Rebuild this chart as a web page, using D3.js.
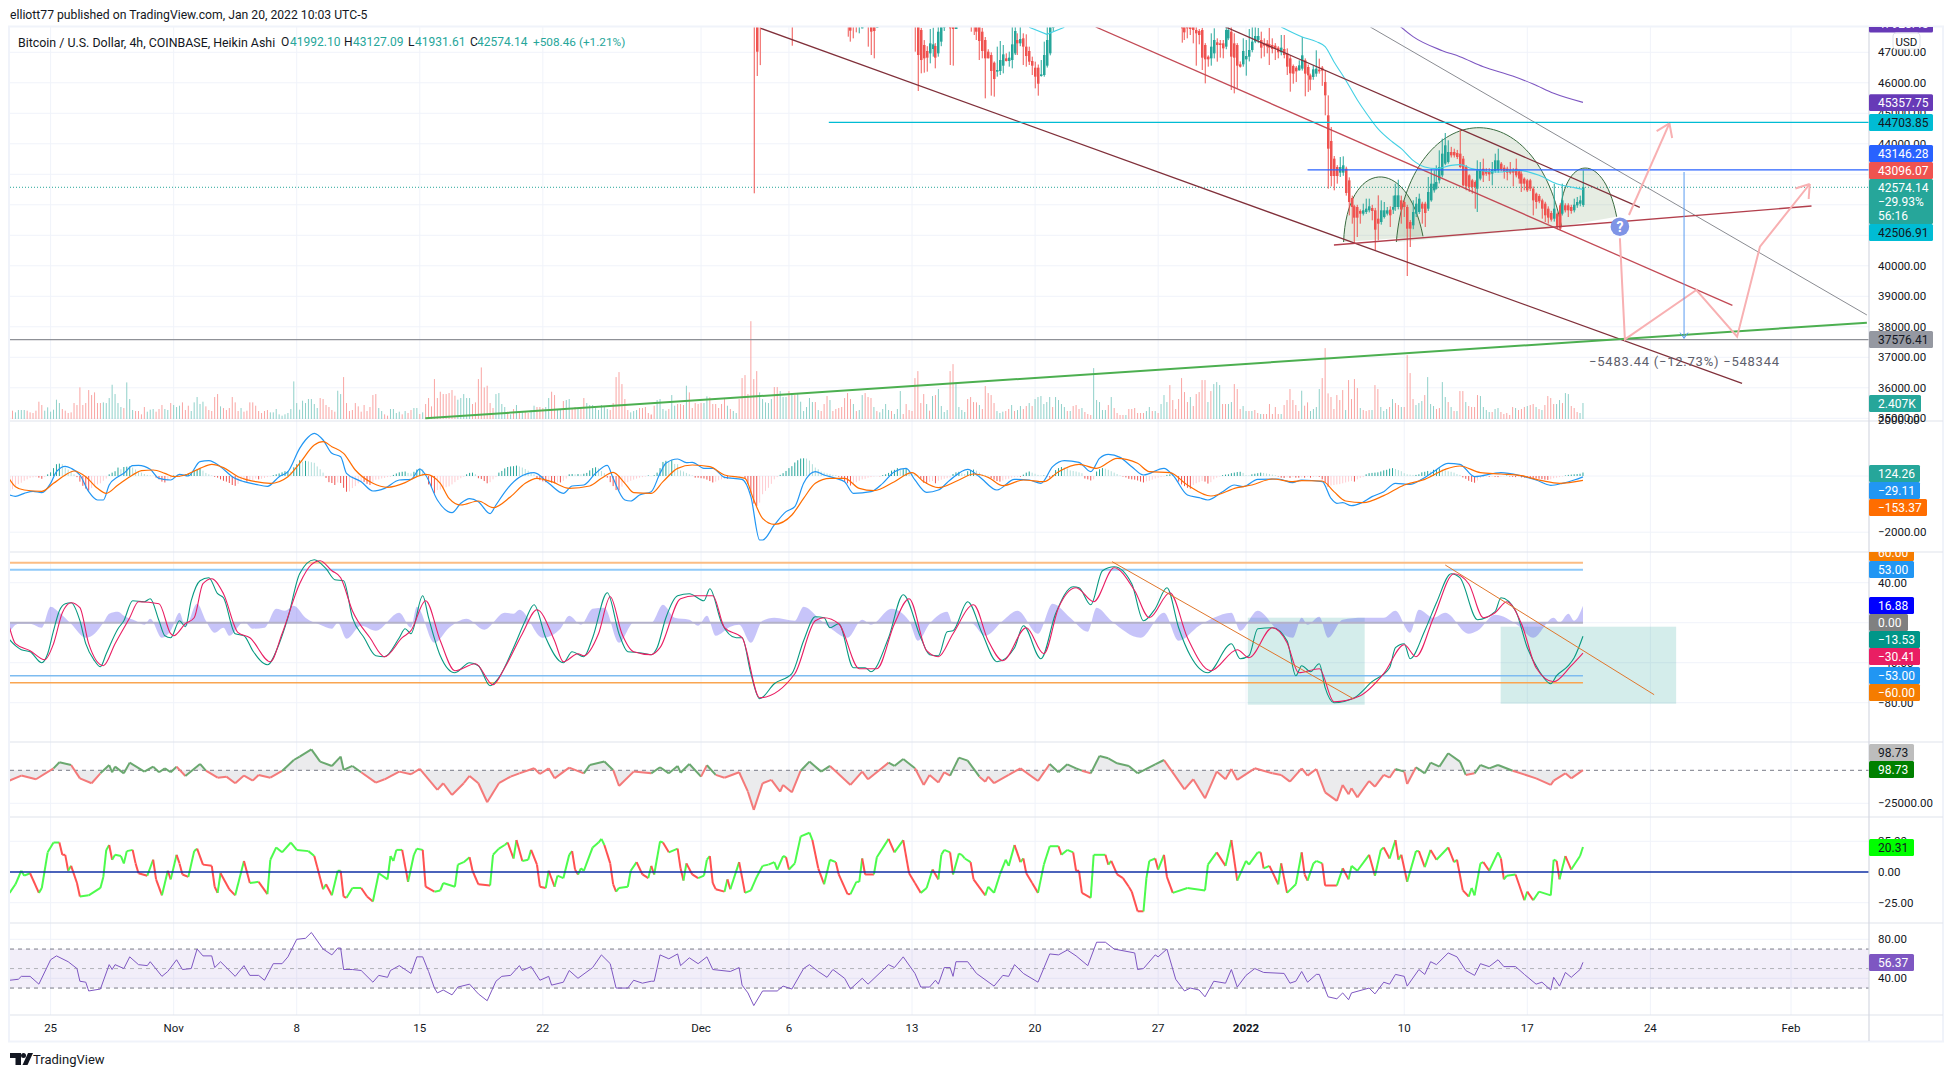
<!DOCTYPE html>
<html lang="en">
<head>
<meta charset="utf-8"/>
<style>
body { margin: 0; background: #fff; }
text { font-family: Roboto, sans-serif; }
.axis text { font-size: 11.5px; fill: #131722; }
.axis path, .axis line { display: none; }
</style>
</head>
<body>
<svg id="chart" width="1953" height="1077"></svg>
<script src="https://cdn.jsdelivr.net/npm/d3@7"></script>
<script>
var firstDay = Date.UTC(2021, 9, 25);

var tickDays = ["2021-10-25","2021-11-01","2021-11-08","2021-11-15","2021-11-22","2021-12-01","2021-12-06","2021-12-13","2021-12-20","2021-12-27","2022-01-01","2022-01-10","2022-01-17","2022-01-24","2022-02-01"];
var tickNames = ["25","Nov","8","15","22","Dec","6","13","20","27","2022","10","17","24","Feb"];

// bar, open, close, high, low
var candlesNov = [[240,49000,48800,49500,42377],[241,48800,47020,49000,46223],[242,48500,47900,48600,46580],[253,48400,48300,48500,47216],
[272,48400,48300,48500,47512],[273,48200,47709,48300,47349],[274,48300,48200,48400,47458],[275,48300,48200,48400,47655],[276,48200,48300,48400,47622],[277,47786,48000,48300,47786],[279,48300,48200,48400,47185],[280,48100,47676,48300,46911],[281,48000,47698,48200,46802],[282,47808,47900,48200,47808]];
var candlesDec = [[295,48300,48200,48400,47021],[296,48200,46911,48300,45731],[297,47731,46747,47800,46310],[298,47239,46802,47400,46332],[299,47043,46824,47200,46365],[300,46966,47294,47764,46638],[301,47108,47261,47808,46857],[302,47206,46824,47300,46474],[303,46966,47676,48000,46857],[304,47349,47895,48200,47200],[305,47808,47900,48200,47700],[307,47900,47786,48200,46583],[308,47900,47764,48200,46562],[309,47764,47900,48200,47764],
[314,48300,48200,48400,47676],[315,48300,48200,48400,47567],[316,47900,47676,48000,47403],[317,47900,47370,48000,46747],[318,47676,47043,47800,46802],[319,47403,46802,47500,45490],[320,47021,46802,47100,46802],[321,46911,46387,47000,45578],[322,46660,46124,46700,45545],[323,46365,46419,47185,46201],[324,46387,46747,47370,46255],[325,46561,46933,47239,46310],[326,46802,46714,46966,46700],[327,46714,46824,47021,46529],[328,46747,47261,47900,46474],[329,46966,47698,47900,46911],[330,47403,47294,47622,46911],[331,47294,47436,47900,47200],[332,47458,47185,47622,46583],[333,47185,46878,47589,46529],[334,47043,46693,47185,46583],[335,46714,46561,46857,46255],[336,46496,46201,46693,45818],[337,46496,45971,46600,45578],[338,46223,46277,46747,46201],[339,46255,46911,47349,46200],[340,46562,47403,47900,46500],[341,46966,47900,48200,46900],[342,47800,47900,48000,47700],
[386,48200,47786,48300,47316],[387,48200,47654,48300,47403],[388,48000,47786,48100,47458],[389,48000,47764,48100,47567],[390,48000,47731,48100,47294],[391,47731,47622,47900,46562],[392,47698,47567,47764,47261],[393,47731,46824,47800,46419],[394,47239,46769,47300,45982],[395,46857,46769,46900,46529],[396,46802,47185,47622,46562],[397,46966,47403,47786,46800],[398,47327,47239,47458,46693],[399,47294,47239,47403,46824],[400,47294,47130,47403,46802],[401,47185,47731,48000,47100],[402,47458,47731,48000,47400],[403,47676,46857,47900,45764],[404,47294,46824,47622,45654],[405,47239,46561,47300,45818],[406,46605,46528,46700,46500],[407,46605,47043,47458,46528]];
var candlesJan = [[408,46769,46879,47403,46234],[409,46857,47075,47764,46700],[410,47075,47349,47900,47000],[411,47349,47534,47900,47300],[412,47403,47534,47800,47300],[413,47403,47152,47676,46802],[414,47294,47217,47458,46857],[415,47294,47185,47400,46966],[416,47272,47152,47800,46583],[417,47239,47108,47458,46966],[418,47217,47108,47300,46747],[419,47152,47000,47200,46802],[420,47000,47152,47567,46900],[421,47108,46911,47567,46802],[422,46966,46529,47130,46255],[423,46802,46310,46900,45709],
[424,46551,46300,46600,45972],[425,46497,46376,46550,46027],[426,46409,46573,46737,46400],[427,46464,46901,47502,46400],[428,46737,46300,46800,45557],[429,46518,46245,46600,45699],[430,46245,46103,46300,45753],[431,46191,46442,46573,46100],[432,46300,46464,47065,46200],[433,46431,46376,46792,46300],[434,46497,46400,46550,45900],[435,46027,45589,46409,44934],[436,44934,43840,45589,42529],[437,44092,42944,44551,42605],[438,43513,42944,43600,42474],[439,43239,42944,43300,42693],[440,43054,43239,43567,42912],[441,43054,43294,43589,42950],[442,43185,42387,43250,42300],[443,42802,42092,42900,41654],[444,42223,41928,42300,41381],[445,41950,41578,42000,40725],[446,41928,41578,42000,40944],[447,41797,41709,41850,41381],[448,41709,41819,42037,41650],[449,41764,41874,42201,41700],[450,41819,41950,42201,41750],[451,41895,41797,42000,41491],[452,41819,41185,41900,40507],[453,41545,41381,42311,40835],[454,41436,41819,42146,41350],[455,41600,41819,42092,41550],[456,41709,41819,41928,41650],[457,41840,41655,41950,41272],[458,41840,41928,42300,41700],[459,41928,42310,42693,41800],[460,41928,42310,42824,41850],[461,42146,41840,42300,41381],[462,42092,41928,42146,41600],[463,41928,41217,42000,39665],[464,41436,41217,41500,40616],[465,41327,41764,42146,41200],[466,41709,42037,42256,41600],[467,41764,42201,42365,41700],[468,42037,41873,42100,41381],[469,42037,41731,42100,41272],[470,41873,42420,42912,41800],[471,42146,42693,43185,42100],[472,42474,42693,43130,42400],[473,42529,42747,43294,42500],[474,42802,43239,43786,42700],[475,42966,43677,44169,42900],[476,43349,43950,44354,43300],[477,43403,43731,44114,43350],[478,43731,43622,43900,43550],[479,43731,43622,43840,43550],[480,43698,43567,43800,43500],[481,43677,43239,44442,43200],[482,43513,42638,43600,42605],[483,43239,42605,43300,42474],[484,42966,42584,43000,42420],[485,42802,42584,42850,42365],[486,42747,42584,42800,41873],[487,42529,43130,43458,41764],[488,42857,43152,43403,42800],[489,43185,42966,43513,42747],[490,43097,43021,43200,42950],[491,43108,42999,43200,42780],[492,43021,43152,43403,42638],[493,43108,43458,43677,43050],[494,43130,43458,43840,43050],[495,43349,43152,43400,43100],[496,43217,43076,43300,42857],[497,43185,43054,43250,42802],[498,43152,43054,43403,43000],[499,43130,43054,43200,42605],[500,43185,42966,43513,42900],[501,43097,42857,43150,42693],[502,43021,42693,43100,42420],[503,42857,42693,42900,42474],[504,42802,42474,42850,42420],[505,42802,42529,42850,42450],[506,42529,42146,42600,41654],[507,42365,42092,42400,41873],[508,42288,42114,42350,42050],[509,42146,41873,42200,41545],[510,42037,41655,42100,41436],[511,41873,41578,41950,41381],[512,41731,41512,41800,41450],[513,41545,41873,42693,41450],[514,41709,41272,41750,41196],[515,41983,41217,42050,41163],[516,41709,42146,42693,41650],[517,41983,41819,42050,41750],[518,41983,41819,42050,41600],[519,41928,41797,42000,41709],[520,41819,42004,42201,41750],[521,41983,42092,42256,41900],[522,42037,42146,42300,41950],[523,41992.10,42574.14,43127.09,41931.61]];

var maCyan = [[334,47820],[340,47590],[346,47820],[420,47830],[427,47512],[432,47350],[435,47185],[438,46693],[442,46092],[446,45436],[449,45010],[453,44496],[458,44059],[461,43840],[465,43458],[469,43240],[473,43185],[478,43294],[481,43316],[485,43185],[494,43075],[501,43130],[508,42966],[514,42693],[520,42562],[523,42507]];
var maPurple = [[459,47990],[461,47819],[465,47513],[475,47054],[481,46857],[489,46529],[499,46223],[506,45961],[513,45655],[523,45358]];

// signed volume in thousands, negative bars are the red ones; each run starts at the bar named next to it
var volumeStartA = -13;
var volumeA = [-1.25,1,1.35,1.35,1.35,-1.25,-1,-.9,-1.25,-2.6,-2.1,1.25,1.75,1.1,1.4,2.9,2.4,-1.5,-1.25,-.9,-1,-2.4,-2.1,-4.75,-2.1,-2.4,-4.35,-3.6,-4,-2.4,-2.4,2.5,2.4,3.15,5.15,3.75,2.4,1.8,-1.65,5.5,3,1.35,-1.2,-1.2,-.7,-1.8,1.1,1.4,1.5,-1.1,-1.5,-2.1,1.5,1.35,-2.4,2.1,1.8,2,-2.5,-1.35,-2,1.2,2.5,3.3,2.25,2.6,-1.9,-1.35,-1.2,-3.3,-3.75,1.9,-1.65,-1.35,-1.65,-3.3,-2.5,-1.2,1.65,-1.1,-1.25,-2.5,-2.5,-2,-1.2,-.9,-1.2,-1.35,1,1,1.5,.7,.5,.7,.9,1.5,5.65,2.4,1.4,2.75,2.4,3,3,2.25,1.65,-3.15,-3,-2.1,-1.8,-1.35,-1.1,4.25,3.75,-6.3,-2.4,-1.2,-1.35,-2.4,-1.9,-1.1,-2.1,-1.2,-1.8,-3.6,-3.75,1.65,1.2,-.7,-.5,1.5,1.5,.9,1.1,-.7,1.2,-.9,-1.35,1.65,1.65,-.75,1,-2.25,-3.15,-1.9,-6,-3.15,-4.1,-3.75,-3.75,-3.9,-4.35,-3.5,2.9,3.15,3.75,3.15,3.15,-2.25,-2.5,-6,-7.75,-4.75,-5,-2.4,-1.65,3.75,3.9,2.25,1.8,-1.1,.7,-1.5,2.1,-1.2,1.2,-1.1,-.9,1.35,2,-1.8,-1.8,-1.65,1.8,3.15,-4.1,-3.6,1.5,1.35,-2.7,2.85,3,-1.5,-1.8,1.5,-1.65,-3.15,2.4,2.1,2.1,1.65,1.35,2.1,1.95,1.5,-1.35,-2.4,-6.3,-7.05,-5.25,-3,-1.35,1,1.2,1.35,-1.65,-1.65,-1.8,-.9,-.6];
var volumeStartB = 205;
var volumeB = [-.7,-2,2.85,3,1.5,1.25,-1.5,3.6,2,-2.25,-2.25,-2.1,5,-4,-1.65,-2.4,-2.25,-2.4,2.4,3.4,-3.25,-2.25,-2.25,-1.65,-2.25,-3,2,-1.5,1.2,.9,-3,-6.15,-6.6,-3.75,-14.7,-6,-7.2,4,3,2.5,2.4,3,-4.8,-4.8,4.2,3.3,3.3,-4.2,3.9,-3.6,3.9,2.6,1.2,1.8,3.15,2.55,-2.55,1.35,-1.2,-2.25,-3.45,2.85,-1.2,-1.5,-1.65,-1.8,-3.15,-3.9,-3,2.25,-1.2,1.35,3.6,-3.9,-3.3,-3.15,1.8,-1.2,1,1.5,2.25,1.35,-1.2,.75,1.5,4.2,-.75,-2.25,-1.35,-1.2,-6.15,-7.2,-2.4,-3.75,2.25,-1.25,3.45,-3.6,4.5,1.95,1.05,1.35,-7.2,-8.25,5.5,1.8,1.35,1.05,-3,-3.3,-2.55,-2.5,2.1,-1.5,-4.95,-3.9,-3.6,-2.4,1.2,.9,1.1,-1.2,-1.5,2.1,-1.2,1.35,1.95,-1.5,-1.95,2.4,-1.95,3,3.3,3.45,2.25,2.55,3.3,-1.8,3.3,2.85,2.25,1.8,-1.2,1.2,-1.95,-2.1,-1.5,1.65,-1.05,-.75,-.6,7.65,2.85,2.55,1.35,1.35,-2.1,3.3,-1.65,-.9,-.6,-.6,.6,-1.5,-1.5,-1.65,-.9,-.9,-.9,1.2,1.8,-1.2,1.2,-.9,2.25,3.6,2.55,-5.1,-2.85,-1.5,-3,-6.15,-4.05,-2.55,3.3,-1.95,-3.75,-4.05,-5.85,-5.85,2.55,-4.2,5.25,5.55,5.1,-2.25,-2.25,2.25,2.55,-5.25,-4.5,-1.5,1.95,1.2,-1.2,1.2,-1.35,-.9,.75,-.75,-.75,-2.25,-.75,-1.8,-.75,.75,-2.1,-2.85,-4.5,-2.85,-2.1,-1.2];
var volumeStartC = 427;
var volumeC = [4.25,-2,-2.5,1.2,1.5,1.8,4.5,-6.15,-10.65,-3.85,-3.3,-1.5,-3.6,-2.85,-4.35,1.35,-5.85,-3,-6,-4.65,1.65,-1.35,-1.2,-1.35,1.35,-5.1,-4.5,1.8,1.2,1.5,-1.8,3,-2.4,-2.1,1.8,-1.8,-9.6,-6.9,-3,2.1,2.4,2.7,-3.6,6.3,2.25,1.95,-1.5,-1.65,5.55,3.3,-2.55,1.8,-1.2,1.2,-4.2,-4.2,2.55,-1.95,-1.8,-1.8,-3.6,3.45,1.8,1.35,1.05,-1.05,1.5,1.65,-1.05,-.75,-.9,-.6,-1.8,1.65,-1.35,-1.5,-1.8,1.95,-2.1,-2.25,1.8,-1.5,1.35,-2.1,-3.45,-3.15,-2.25,2.25,2.85,-2.4,3.9,3.75,-1.95,-1.65,-1.05,.9,2.407];

var macdLine = [[-14,-676],[-12,-723],[-9,-617],[-6,-546],[-3,-593],[0,-261],[2,154],[5,344],[7,273],[10,36],[13,-557],[16,-854],[18,-854],[20,-320],[23,-24],[25,95],[28,368],[30,380],[34,237],[37,-83],[41,-142],[44,59],[47,0],[51,510],[54,546],[58,332],[62,-24],[66,-202],[70,-297],[74,-368],[78,-24],[81,154],[85,984],[87,1281],[90,1518],[93,1281],[96,806],[99,688],[101,95],[106,-202],[110,-534],[114,-439],[119,-142],[123,-119],[126,249],[128,36],[132,-854],[137,-1305],[140,-973],[143,-806],[146,-913],[150,-1340],[152,-1032],[156,-439],[160,-47],[165,119],[170,-261],[175,-617],[178,-356],[182,-320],[186,95],[190,380],[192,-83],[196,-854],[198,-890],[201,-676],
[205,-557],[208,95],[210,451],[214,605],[217,474],[219,486],[223,273],[226,273],[230,-47],[236,-119],[239,-735],[242,-2277],[243,-2277],[247,-1743],[251,-1269],[254,-1091],[257,-261],[261,154],[264,36],[268,-83],[271,-202],[274,-617],[280,-557],[284,-261],[288,154],[292,273],[295,-142],[299,-581],[303,-498],[307,-142],[313,237],[317,-24],[323,-498],[329,-119],[334,-142],[338,-261],[342,332],[346,546],[351,486],[355,154],[358,629],[361,771],[365,664],[369,332],[373,36],[380,273],[383,36],[388,-676],[392,-771],[395,-854],[400,-557],[404,-320],[407,-380],[412,-119],[419,-107],[424,-237],
[427,-142],[434,-202],[437,-795],[439,-973],[441,-949],[444,-1056],[447,-973],[451,-735],[455,-557],[459,-261],[464,-297],[468,-119],[472,154],[477,451],[481,415],[486,-24],[495,119],[502,0],[507,-142],[512,-332],[516,-261],[520,-142],[523,-29.11]];
var macdSignal = [[-14,-119],[-12,-380],[-9,-498],[-3,-546],[1,-261],[5,36],[8,178],[12,-24],[16,-439],[19,-617],[23,-320],[28,36],[31,190],[35,213],[39,95],[42,-24],[46,36],[51,273],[55,415],[59,297],[64,-24],[70,-202],[75,-261],[81,-24],[85,451],[90,1103],[93,1222],[96,1044],[100,806],[104,213],[110,-261],[115,-403],[121,-237],[125,-24],[128,59],[133,-261],[136,-795],[140,-1032],[146,-890],[151,-1127],[157,-735],[162,-261],[166,-83],[171,-202],[177,-439],[184,-356],[188,-83],[192,130],[196,-261],[199,-593],
[205,-617],[209,-202],[214,273],[219,391],[225,332],[230,36],[237,-83],[240,-854],[243,-1506],[247,-1720],[253,-1388],[257,-795],[261,-261],[266,-83],[271,-83],[276,-439],[281,-522],[288,-202],[294,119],[298,-202],[303,-415],[310,-142],[315,71],[320,-47],[325,-344],[332,-142],[339,-202],[344,154],[351,415],[357,273],[364,629],[371,451],[375,154],[382,119],[388,-320],[396,-712],[405,-415],[410,-320],[417,-107],[424,-202],
[427,-166],[434,-178],[438,-557],[442,-890],[448,-949],[455,-700],[462,-320],[469,-119],[476,237],[481,356],[488,119],[495,71],[502,12],[509,-166],[515,-261],[523,-153.37]];
// histogram runs: [first bar, values of consecutive bars]
var macdHist = [[-14,[-540,-470,-380,-290,-240,-170,-120,-70,-50,-40,-60,-100,-40]],[-1,[60,130,280,420,440,420,300,230,150,60]],[9,[-40,-200,-350,-450,-520,-430,-360,-300,-260,-170,-90]],[20,[60,120,170,300,240,320,330,340,300,230,160,120,70,40,20,10]],[36,[-60,-120,-200,-230,-170,-90]],[42,[20,10,-20,30,60,90,120,200,240,260,190,110,60,20]],[56,[-30,-60,-120,-170,-200,-250,-320,-350,-280,-190,-130,-200,-170,-140,-90,-120,-100,-70,-40,-20]],[76,[30,60,90,130,170,170,150,310,420,560,510,540,520,490,470,340,240,120]],[94,[-70,-220,-250,-320,-230,-250,-420,-560,-550,-430,-360,-260,-200,-210,-280,-320,-210,-130,-120,-90,-70,-40,-30]],[117,[40,90,130,150,160,110,90,150,230,260,240,60]],[129,[-300,-420,-620,-500,-480,-440,-400,-370,-300,-220,-140,-80,-30]],[142,[60,110,120,60]],[146,[-80,-110,-180,-260,-220,-120,-40]],[153,[120,180,270,320,340,350,370,340,300,250,190,130,60]],[166,[-70,-150,-190,-220,-200,-240,-260,-230,-230,-170,-90]],[177,[60,70,60,70,60,80,110,200,280,310,270,180,100]],[190,[-60,-220,-360,-500,-510,-380,-260,-220,-170,-130,-90,-60,-40,-20,20,-10,30]],[207,[120,280,500,540,520,560,430,420,200,160,110,60,20]],[220,[-60,-60,-80,-90,-130,-180,-230,-200,-150,-120,-100,-100,-60,-50,-40,-30,-20]],[237,[-80,-280,-600,-980,-1070,-950,-650,-530,-420,-280,-120,-40]],[249,[40,100,180,280,350,480,560,620,630,620,550,420,300,240,160,120,90,70,40,30]],[269,[-30,-110,-200,-260,-340,-270,-220,-170,-120,-100,-60,-40,-20,-10,-10]],[284,[30,60,110,190,220,280,230,240,270,180,110,60,20]],[297,[-100,-240,-280,-210,-180,-260,-170,-130,-100,-80,-60]],[308,[70,130,150,100,70,170,210,230,190,120,60,40,10]],[321,[-80,-130,-180,-200,-160,-120,-100,-60,-40,-30,-30]],[332,[50,120,160,120,80,40,20,20,-40,-60]],[342,[30,210,280,320,300,270,200,180,160,130,100]],[353,[-90,-120,-160,-120]],[357,[160,240,280,260,220,170,120,70,20]],[366,[-20,-50,-100,-120,-130,-160,-200,-230,-190,-170,-130,-90,-60,-40,-20]],[381,[40,60,40,-20]],[385,[-200,-300,-360,-420,-450,-320,-260,-220,-180,-200,-270,-220,-120,-60,-20]],[400,[30,50,60,100,120,140,150,110,30,20,60,80,100,120,110,90,70,50,30]],[419,[-20,-60,-70,-50,-70,-40,-60,-60,-50,-60,-30,-60,-30,-20,-30]],[434,[-120,-240,-380,-340,-320,-300,-290,-260,-230,-200,-180,-200,-120,-70,-40]],[449,[60,100,110,120,130,160,200,220,260,280,250,210,170,100,60,50,40,40,60]],[468,[130,150,180,160,220,240,270,230,200,170,150,120,70,40]],[482,[-50,-100,-170,-210,-240,-160,-70,-30,-20,-30,-20,-30,-40,-20,-10]],[497,[20,-20,-30,-40,-30,-50,-60,-70,-80,-80,-90,-100,-110,-130,-140,-120,-80,-60,-40,-20]],[517,[20,40,50,60,70,80,124.26]]];

var stochK = [[-14,-17],[-12,-23],[-10,-27],[-7,-29],[-3,-40],[-1,-31],[1,-8],[3,12],[5,19],[7,20],[10,2],[12,-21],[15,-38],[17,-44],[19,-31],[23,-6],[25,2],[28,22],[32,21],[34,24],[37,2],[39,-13],[41,-15],[44,2],[46,-4],[48,22],[51,42],[54,45],[57,29],[59,25],[63,-11],[66,-13],[69,-28],[74,-42],[78,-21],[81,5],[85,49],[90,63],[94,54],[97,43],[100,42],[103,5],[107,-15],[111,-33],[114,-34],[119,-15],[121,-6],[123,-11],[127,27],[129,5],[133,-33],[138,-50],[143,-40],[146,-43],[150,-63],[153,-55],[158,-25],[162,2],[165,18],[169,-15],[175,-40],[178,-29],[182,-34],[185,-15],[190,30],[194,-11],[197,-29],[201,-30],
[205,-32],[207,-25],[210,5],[214,27],[218,29],[223,22],[225,34],[229,0],[234,-15],[236,-15],[239,-51],[242,-76],[247,-61],[253,-51],[257,-18],[261,6],[264,5],[266,-5],[269,-1],[274,-45],[278,-45],[280,-49],[286,-15],[291,28],[297,-15],[300,-32],[303,-33],[306,-9],[308,-8],[313,21],[318,-11],[323,-39],[329,-25],[332,-3],[338,-36],[343,9],[349,36],[351,35],[355,18],[359,52],[363,56],[369,39],[373,2],[377,14],[381,35],[385,-5],[389,-33],[395,-50],[403,-21],[406,-36],[409,-33],[412,-6],[417,-5],[422,-18],[425,-53],
[427,-43],[430,-49],[433,-41],[435,-65],[438,-80],[445,-75],[451,-59],[457,-45],[459,-25],[462,-21],[464,-36],[469,-8],[473,20],[478,49],[481,45],[487,3],[493,11],[495,25],[500,12],[504,-25],[508,-48],[512,-61],[514,-53],[518,-43],[520,-35],[523,-13.53]];
var stochD = [[-14,-5],[-12,-21],[-7,-28],[-2,-37],[1,-21],[4,10],[7,20],[10,15],[13,-21],[18,-43],[22,-21],[27,5],[30,21],[37,19],[41,-11],[42,-13],[46,-1],[49,5],[52,39],[55,44],[59,29],[64,-10],[68,-15],[75,-39],[79,-11],[85,39],[89,58],[92,62],[96,52],[99,45],[103,12],[109,-15],[114,-34],[120,-15],[123,-8],[128,22],[133,-18],[138,-48],[145,-41],[151,-62],[155,-45],[161,-11],[166,13],[172,-18],[175,-39],[180,-31],[182,-33],[187,-11],[191,26],[195,-11],[199,-29],
[205,-32],[208,-25],[215,24],[220,27],[226,27],[230,-5],[236,-15],[242,-75],[254,-51],[261,2],[264,5],[269,-1],[276,-46],[282,-46],[288,-1],[293,24],[299,-28],[303,-34],[308,-11],[315,18],[320,-18],[325,-38],[333,-5],[339,-31],[344,15],[350,35],[356,21],[363,55],[370,32],[375,5],[382,30],[388,-15],[396,-48],[405,-27],[409,-35],[417,-5],[422,-20],[426,-50],
[433,-46],[438,-79],[447,-73],[455,-51],[462,-22],[466,-34],[472,5],[479,49],[484,39],[489,5],[493,10],[497,21],[502,-1],[507,-45],[513,-59],[519,-43],[523,-30.41]];
var stochDiff = [[-14,-9],[-11,-1],[-7,-1],[-3,-5],[0,16],[3,10],[7,-1],[12,-15],[15,-11],[18,0],[20,9],[23,11],[25,7],[29,2],[32,-2],[34,4],[38,-15],[41,-8],[44,10],[46,-4],[50,19],[53,2],[56,-10],[59,-5],[61,-13],[66,1],[69,-6],[73,-5],[77,14],[80,12],[83,17],[87,5],[92,-2],[96,-6],[98,0],[101,-16],[106,-3],[111,-8],[119,10],[123,-5],[125,16],[131,-20],[136,-5],[142,4],[148,-7],[155,10],[158,9],[160,13],[168,-15],[174,-6],[177,7],[181,-2],[185,14],[189,15],[194,-20],[199,0],
[205,0],[209,18],[213,5],[218,3],[221,-3],[224,7],[227,-13],[232,-4],[235,-2],[239,-20],[243,2],[247,5],[254,2],[257,16],[263,2],[266,-5],[272,-15],[277,3],[280,-2],[287,14],[293,2],[296,-18],[300,-1],[306,11],[308,-1],[314,0],[319,-13],[325,2],[330,12],[337,-11],[342,19],[348,5],[354,-9],[357,15],[362,2],[372,-15],[380,10],[385,-18],[392,-3],[397,5],[403,10],[406,-8],[412,12],[419,-8],[424,-15],
[427,5],[429,-2],[433,6],[436,-15],[441,3],[448,5],[455,5],[459,12],[464,-10],[467,13],[472,5],[476,10],[484,-11],[487,-8],[493,8],[501,-3],[506,-15],[513,5],[515,0],[518,9],[520,2],[523,16.88]];

var oscillator = [[-14,-7800],[-10,-4000],[-5,-6800],[1,1500],[3,6100],[7,4000],[10,-6100],[14,-9800],[17,-2300],[20,4000],[21,-1500],[22,2800],[25,-2300],[27,5800],[32,-1000],[35,2800],[37,-1500],[39,1500],[41,-1500],[43,2800],[46,-4300],[51,4800],[53,-300],[57,-5600],[60,-4800],[63,-9800],[66,-4000],[69,-7800],[71,-3500],[75,-5600],[79,-500],[83,7800],[85,10400],[89,15900],[92,6600],[96,3300],[99,10400],[100,300],[103,3300],[106,-1500],[111,-9300],[114,-6800],[119,-1000],[123,-3000],[126,1000],[132,-14900],[134,-9800],[137,-18700],[141,-9800],[143,-4300],[146,-9800],[149,-24200],[153,-9800],[157,-4800],[160,-2300],[165,1500],[167,-2800],[170,1500],[172,-6100],[177,2000],[182,-2300],[184,4000],[189,6600],[192,300],[194,-11900],[199,-1000],
[205,-2300],[208,2300],[211,-2300],[214,3300],[215,-1800],[218,4800],[222,-4800],[224,3800],[227,-3500],[230,-5600],[235,-1500],[238,-16200],[240,-30000],[243,-9800],[246,-7300],[249,-16200],[250,-11100],[253,-16700],[256,-300],[259,6600],[263,-1000],[266,3300],[273,-11100],[277,-1000],[279,-6800],[286,5800],[288,3300],[291,8600],[295,1500],[298,-11100],[300,-3500],[303,-9300],[305,-1500],[307,-4000],[310,9600],[313,7300],[317,-4800],[319,-8600],[320,-4800],[322,-9800],[327,-3500],[331,1500],[337,-8100],[341,4800],[344,-1500],[347,4500],[350,1500],[352,-300],[355,-2300],[358,10900],[361,9100],[364,5300],[368,3300],[371,-2300],[377,4500],[380,7800],[387,-14400],[390,-6800],[394,-21200],[398,-1000],[401,-6800],[403,1000],[405,-7300],[411,1500],[417,-2300],[420,-3500],[423,-8600],
[427,1500],[429,-4000],[432,1000],[435,-16700],[439,-23200],[441,-11100],[443,-18200],[444,-13600],[446,-20500],[450,-8100],[452,-12400],[455,-3500],[457,-5600],[459,1000],[462,-1000],[463,-10400],[466,2300],[469,-2300],[471,5800],[474,2800],[477,12900],[481,6600],[483,-3500],[486,-2300],[488,4000],[491,1500],[494,4000],[499,-300],[507,-6100],[512,-11100],[513,-7800],[517,-2300],[519,-6100],[523,98.73]];

var momentum = [[-14,-17],[-12,-10],[-10,1],[-9,-3],[-7,-1],[-4,-17],[-3,-13],[-1,16],[1,24],[3,24],[4,14],[5,14],[6,1],[7,5],[9,-9],[10,-20],[13,-19],[17,-13],[18,-4],[19,18],[20,22],[21,10],[22,14],[24,13],[25,7],[26,17],[28,18],[29,7],[30,-1],[33,-3],[35,10],[36,-6],[38,-19],[40,1],[41,-6],[43,14],[44,7],[45,-2],[47,-4],[49,17],[50,19],[52,6],[55,5],[56,-12],[57,-17],[58,-1],[61,-14],[63,-19],[66,9],[68,-9],[71,-8],[74,-18],[75,10],[77,20],[79,16],[82,24],[84,18],[88,17],[90,13],[91,4],[93,-14],[94,-10],[96,-19],[98,1],[99,1],[100,-20],[101,-21],[103,-13],[106,-13],[108,-20],[110,-24],[112,-1],[115,-6],[116,13],[117,9],[118,18],[120,18],[122,-8],[124,14],[125,19],[127,18],[128,-12],[131,-16],[133,-15],[134,-9],[138,-12],[139,6],[141,8],[143,12],[144,1],[146,-10],[150,-11],[151,14],[153,19],[155,22],[156,24],[158,11],[159,26],[161,9],[163,10],[164,18],[166,6],[167,-12],[169,-13],[170,1],[172,-12],[173,-3],[175,-5],[177,14],[178,17],[179,2],[180,-2],[181,3],[182,1],[185,20],[187,24],[188,27],[189,22],[191,7],[192,-10],[193,-16],[194,-13],[197,-12],[198,1],[200,8],[202,-2],[204,-5],
[205,5],[206,-2],[208,25],[209,24],[211,16],[214,19],[215,3],[216,-7],[217,7],[219,-2],[221,-5],[223,-3],[224,10],[225,13],[226,-9],[227,-14],[230,-16],[231,-6],[232,-14],[235,8],[237,-17],[239,-15],[241,-4],[243,5],[245,6],[247,8],[248,2],[250,13],[251,12],[252,2],[254,7],[256,29],[259,32],[260,26],[262,3],[264,-10],[266,10],[268,8],[269,-2],[272,-18],[273,-18],[275,-8],[276,-8],[277,11],[278,-2],[281,-2],[282,12],[286,27],[288,16],[291,26],[293,-1],[295,-9],[297,-17],[299,-13],[301,2],[303,-6],[304,14],[305,18],[307,16],[308,-2],[310,15],[311,14],[312,11],[314,8],[315,-6],[319,-19],[320,-12],[322,-17],[324,-2],[326,10],[327,5],[329,22],[331,8],[332,11],[333,-1],[335,-9],[337,-17],[339,6],[341,21],[344,21],[345,14],[347,18],[349,16],[350,1],[351,1],[352,-17],[355,-21],[356,14],[360,14],[361,6],[362,9],[364,-2],[366,-5],[368,-12],[369,-16],[371,-32],[373,-32],[374,-5],[375,9],[377,11],[378,2],[380,14],[381,-4],[383,-17],[388,-13],[394,-15],[395,6],[398,16],[401,5],[403,26],[405,-7],[408,9],[409,6],[412,16],[413,16],[414,3],[416,5],[419,-10],[420,7],[422,-17],[425,-10],
[427,16],[428,-2],[429,-7],[431,7],[432,9],[434,7],[435,-11],[439,-11],[441,3],[443,-6],[444,5],[446,1],[450,14],[452,-3],[454,18],[455,20],[457,11],[459,26],[460,10],[461,14],[463,-8],[466,17],[467,17],[469,4],[471,18],[473,10],[477,20],[479,8],[480,10],[482,-15],[484,-20],[485,-13],[486,-19],[488,7],[489,8],[491,1],[494,16],[495,11],[496,-6],[497,-3],[500,-2],[503,-23],[504,-16],[506,-23],[508,-16],[512,-19],[513,10],[514,9],[515,-6],[517,13],[519,2],[522,13],[523,20.31]];

var rsi = [[-14,38],[-11,39],[-10,42],[-7,42],[-4,34],[0,59],[2,63],[6,57],[9,50],[10,37],[12,36],[13,27],[17,29],[20,54],[21,49],[22,54],[25,50],[27,62],[30,54],[33,53],[34,57],[38,42],[40,47],[43,59],[45,49],[48,50],[50,70],[52,63],[55,63],[56,51],[58,57],[63,42],[66,53],[68,43],[71,43],[73,38],[76,55],[79,55],[81,62],[84,80],[87,81],[89,87],[93,70],[96,64],[98,71],[99,71],[100,49],[103,49],[106,48],[110,36],[112,43],[115,41],[116,48],[119,53],[123,45],[125,62],[127,62],[129,47],[131,30],[132,25],[134,28],[137,23],[139,31],[143,34],[146,24],[149,17],[152,37],[154,42],[157,43],[160,53],[161,48],[164,52],[167,38],[170,42],[171,33],[175,36],[177,48],[180,40],[185,51],[188,64],[191,55],[193,30],[197,30],[199,38],[202,35],
[205,37],[206,37],[208,64],[211,60],[214,65],[215,53],[218,61],[221,55],[224,62],[226,49],[232,47],[235,51],[236,33],[238,25],[240,12],[243,27],[248,27],[250,32],[253,29],[257,50],[259,54],[262,47],[265,41],[267,49],[271,40],[273,29],[277,40],[279,34],[286,54],[288,51],[291,62],[295,45],[297,31],[300,31],[302,38],[303,34],[305,51],[307,51],[308,42],[309,57],[313,57],[316,45],[322,32],[325,43],[327,42],[329,54],[332,45],[337,36],[341,65],[344,64],[347,69],[350,63],[354,53],[357,77],[360,77],[363,70],[370,66],[371,49],[373,50],[377,64],[378,62],[381,70],[384,39],[387,27],[389,30],[392,28],[394,21],[397,37],[401,35],[403,49],[405,31],[408,43],[411,50],[414,46],[421,45],[423,35],[425,37],
[427,47],[429,36],[432,44],[433,44],[436,21],[439,19],[441,25],[443,18],[444,25],[450,30],[452,24],[455,36],[457,34],[459,44],[462,42],[463,32],[467,49],[469,44],[471,57],[473,54],[477,66],[480,62],[483,48],[486,43],[488,55],[491,52],[494,59],[496,52],[500,52],[503,44],[507,34],[509,36],[512,28],[513,41],[515,32],[517,46],[519,41],[522,49],[523,56.37]];

// drawings on the price pane: [bar, price, bar, price]
var channelLines = [[242.4,47787,577.3,36148],[401,47830,542.4,41918]];
var channelMid = [356.7,47830,574,38705];
var grayDiagonal = [450.4,47830,619.9,38387];
var greenLine = [127.9,35000,619.9,38134];
var necklineLine = [438,40682,601,41960];
var resistanceStart = 265.6, pivotStart = 429;
var projectionUp = [[538.7,41665],[552.5,44672]];
var projectionPath = [[535.6,40902],[537.3,37590],[561.7,39207],[575.6,37675],[583.4,40626],[600.4,42682]];
var measure = [557.5,43075,37620];
var questionMark = [535.6,41282];
// start, top, end of each arc
var arcs = [[441.3,40780,453.2,42911,468.4,40967],[459.3,40780,485.5,44518,515.7,41272],[515,41282,522.9,43197,534.5,41610]];
// drawings on the oscillator pane
var stochBoxes = [[408.6,5,448.5,-82],[494.9,-4,554.8,-81]];
var stochTrends = [[362.3,61,444.6,-76],[476,57.7,547.3,-72]];

var svg = d3.select("#chart");
var left = 10, right = 1869, outer = 1943, lastBar = 523;

var x = d3.scaleTime().domain([new Date(Date.UTC(2021,9,25)), new Date(Date.UTC(2022,1,1))]).range([50.6, 1791]);
function barX(i) { return x(new Date(firstDay + i * 4 * 3600e3)); }

var priceY = d3.scaleLinear().domain([47000,35000]).range([52.3,418.3]);
var volY = d3.scaleLinear().domain([0,15]).range([419,319.2]);
var macdY = d3.scaleLinear().domain([2000,-2000]).range([419.8,532.2]);
var stochY = d3.scaleLinear().domain([40,-80]).range([582.7,702.7]);
var oscY = d3.scaleLinear().domain([0,-25000]).range([770.3,803.3]);
var momY = d3.scaleLinear().domain([25,-25]).range([841.3,902.7]);
var rsiY = d3.scaleLinear().domain([80,40]).range([939.3,978.3]);

var panes = [[27,421],[421,552],[552,742],[742,817],[817,923],[923,1015]];
var defs = svg.append("defs");
panes.forEach(function(p, k) {
  defs.append("clipPath").attr("id", "pane" + k).append("rect").attr("x", left).attr("y", p[0]).attr("width", right - left).attr("height", p[1] - p[0]);
});

// grid
var grid = svg.append("g").attr("stroke", "#f0f3fa").attr("stroke-width", 1);
tickDays.forEach(function(d) {
  var px = x(new Date(d + "T00:00:00Z"));
  grid.append("line").attr("x1", px).attr("x2", px).attr("y1", 27).attr("y2", 1015);
});
function hgrid(scale, values) {
  values.forEach(function(v) { grid.append("line").attr("x1", left).attr("x2", right).attr("y1", scale(v)).attr("y2", scale(v)); });
}
hgrid(priceY, d3.range(35000,48000,1000));
hgrid(macdY, [0,-2000]);
hgrid(stochY, [40,0,-40,-80]);
hgrid(oscY, [-25000]);
hgrid(momY, [25,-25]);
hgrid(rsiY, [80,40]);

function px2(g, a, color, w, dash) {
  return g.append("line").attr("x1", barX(a[0])).attr("y1", priceY(a[1])).attr("x2", barX(a[2])).attr("y2", priceY(a[3]))
    .attr("stroke", color).attr("stroke-width", w).attr("stroke-dasharray", dash || null);
}
function line(scale, curve) {
  return d3.line().x(function(d) { return barX(d[0]); }).y(function(d) { return scale(d[1]); }).curve(curve || d3.curveLinear);
}
function hline(g, scale, v, x2, color, w, dash) {
  g.append("line").attr("x1", left).attr("x2", x2).attr("y1", scale(v)).attr("y2", scale(v))
    .attr("stroke", color).attr("stroke-width", w).attr("stroke-dasharray", dash || null);
}

// price pane
var main = svg.append("g").attr("clip-path", "url(#pane0)");
var volG = main.append("g");
[[volumeStartA,volumeA],[volumeStartB,volumeB],[volumeStartC,volumeC]].forEach(function(run) {
  run[1].forEach(function(v, k) {
    var px = barX(run[0] + k);
    volG.append("line").attr("x1", px).attr("x2", px).attr("y1", volY(0)).attr("y2", volY(Math.abs(v)))
      .attr("stroke", v < 0 ? "#f9a5a3" : "#8fd0c9").attr("stroke-width", 1);
  });
});
hline(main, priceY, 42574.14, right, "#26a69a", 1, "1,2");
hline(main, priceY, 37576.41, right, "#8f9197", 1.2);

arcs.forEach(function(a) {
  var x0 = barX(a[0]), y0 = priceY(a[1]), xp = barX(a[2]), yp = priceY(a[3]), x1 = barX(a[4]), y1 = priceY(a[5]);
  var hx = (xp - (x0 + x1) / 2) * 4 / 3, hy = (yp - (y0 + y1) / 2) * 4 / 3, inset = (x1 - x0) * 0.12;
  var p = d3.path();
  p.moveTo(x0, y0);
  p.bezierCurveTo(x0 + hx + inset, y0 + hy, x1 + hx - inset, y1 + hy, x1, y1);
  main.append("path").attr("d", p.toString()).attr("fill", "rgba(76,130,60,.14)").attr("stroke", "none");
  main.append("path").attr("d", p.toString()).attr("fill", "none").attr("stroke", "#3a6b40").attr("stroke-width", 1);
});

// candles
candlesNov.concat(candlesDec, candlesJan).forEach(function(c) {
  var up = c[2] >= c[1], color = up ? "#26a69a" : "#ef5350", left0 = Math.round(barX(c[0]) - 1);
  main.append("line").attr("x1", left0 + 1.25).attr("x2", left0 + 1.25).attr("y1", priceY(c[3])).attr("y2", priceY(c[4])).attr("stroke", color).attr("stroke-width", 1);
  var top = priceY(Math.max(c[1], c[2])), bot = priceY(Math.min(c[1], c[2]));
  main.append("rect").attr("x", left0).attr("width", 2.5).attr("y", top).attr("height", Math.max(bot - top, 1)).attr("fill", color);
});

main.append("path").attr("d", line(priceY)(maCyan.slice(0,3))).attr("fill", "none").attr("stroke", "#43d0e4").attr("stroke-width", 1.1);
main.append("path").attr("d", line(priceY, d3.curveMonotoneX)(maCyan.slice(3))).attr("fill", "none").attr("stroke", "#43d0e4").attr("stroke-width", 1.1);
main.append("path").attr("d", line(priceY, d3.curveMonotoneX)(maPurple)).attr("fill", "none").attr("stroke", "#7e57c2").attr("stroke-width", 1.1);

channelLines.forEach(function(a) { px2(main, a, "#80303a", 1.3); });
px2(main, channelMid, "#c24a55", 1.3);
px2(main, grayDiagonal, "#8a8c92", 1);
px2(main, necklineLine, "#b23f4c", 1.3);
px2(main, greenLine, "#4caf50", 2);
main.append("line").attr("x1", barX(resistanceStart)).attr("x2", right).attr("y1", priceY(44703.85)).attr("y2", priceY(44703.85)).attr("stroke", "#00bcd4").attr("stroke-width", 1.3);
main.append("line").attr("x1", barX(pivotStart)).attr("x2", right).attr("y1", priceY(43146.28)).attr("y2", priceY(43146.28)).attr("stroke", "#2962ff").attr("stroke-width", 1.3);

function head(g, from, to, color, len) {
  var a0 = barX(from[0]), b0 = priceY(from[1]), a1 = barX(to[0]), b1 = priceY(to[1]);
  var ang = Math.atan2(b1 - b0, a1 - a0);
  [-0.6, 0.6].forEach(function(t) {
    g.append("line").attr("x1", a1).attr("y1", b1).attr("x2", a1 - len * Math.cos(ang + t)).attr("y2", b1 - len * Math.sin(ang + t))
      .attr("stroke", color).attr("stroke-width", len > 8 ? 2 : 1);
  });
}
var pink = "#f8b0b2";
main.append("path").attr("d", line(priceY)(projectionUp)).attr("fill", "none").attr("stroke", pink).attr("stroke-width", 2);
head(main, projectionUp[0], projectionUp[1], pink, 15);
main.append("path").attr("d", line(priceY)(projectionPath)).attr("fill", "none").attr("stroke", pink).attr("stroke-width", 2);
head(main, projectionPath[4], projectionPath[5], pink, 15);

main.append("line").attr("x1", barX(measure[0])).attr("x2", barX(measure[0])).attr("y1", priceY(measure[1])).attr("y2", priceY(measure[2])).attr("stroke", "#5a9cf0").attr("stroke-width", 1);
head(main, [measure[0], measure[1]], [measure[0], measure[2]], "#5a9cf0", 7);
main.append("text").attr("x", barX(measure[0])).attr("y", priceY(36860)).attr("text-anchor", "middle").attr("dominant-baseline", "central")
  .attr("font-size", 13).attr("fill", "#5d606b").attr("textLength", 190).text("\u22125483.44 (\u221212.73%) \u2212548344");

main.append("circle").attr("cx", barX(questionMark[0])).attr("cy", priceY(questionMark[1])).attr("r", 9.3).attr("fill", "#7f94e6");
main.append("text").attr("x", barX(questionMark[0])).attr("y", priceY(questionMark[1]) + 0.5).attr("text-anchor", "middle").attr("dominant-baseline", "central")
  .attr("font-size", 14).attr("font-weight", 700).attr("fill", "#fff").text("?");

// macd pane
var macdG = svg.append("g").attr("clip-path", "url(#pane1)");
macdHist.forEach(function(run) {
  run[1].forEach(function(v, k) {
    var prev = k ? run[1][k - 1] : 0, growing = Math.abs(v) >= Math.abs(prev);
    var color = v >= 0 ? (growing ? "#26a69a" : "#b2dfdb") : (growing ? "#ef5350" : "#ffcdd2");
    var px = barX(run[0] + k);
    macdG.append("line").attr("x1", px).attr("x2", px).attr("y1", macdY(0)).attr("y2", macdY(v)).attr("stroke", color).attr("stroke-width", 1);
  });
});
macdG.append("path").attr("d", line(macdY, d3.curveMonotoneX)(macdLine)).attr("fill", "none").attr("stroke", "#2196f3").attr("stroke-width", 1.2);
macdG.append("path").attr("d", line(macdY, d3.curveMonotoneX)(macdSignal)).attr("fill", "none").attr("stroke", "#ff6d00").attr("stroke-width", 1.2);

// stochastic pane
var stochG = svg.append("g").attr("clip-path", "url(#pane2)");
stochBoxes.forEach(function(b) {
  stochG.append("rect").attr("x", barX(b[0])).attr("y", stochY(b[1])).attr("width", barX(b[2]) - barX(b[0])).attr("height", stochY(b[3]) - stochY(b[1])).attr("fill", "rgba(0,150,136,.17)");
});
stochG.append("path").attr("d", d3.area().x(function(d) { return barX(d[0]); }).y0(stochY(0)).y1(function(d) { return stochY(d[1]); }).curve(d3.curveMonotoneX)(stochDiff))
  .attr("fill", "rgba(80,70,235,.32)");
var stochEnd = barX(lastBar);
hline(stochG, stochY, 60, stochEnd, "#fbbd84", 2);
hline(stochG, stochY, 53, stochEnd, "#90caf9", 2);
hline(stochG, stochY, 0, stochEnd, "#b3b1c9", 2);
hline(stochG, stochY, -53, stochEnd, "#7ebcf0", 1.5);
hline(stochG, stochY, -60, stochEnd, "#f9a551", 1.5);
stochG.append("path").attr("d", line(stochY, d3.curveMonotoneX)(stochK)).attr("fill", "none").attr("stroke", "#089981").attr("stroke-width", 1.1);
stochG.append("path").attr("d", line(stochY, d3.curveMonotoneX)(stochD)).attr("fill", "none").attr("stroke", "#e91e63").attr("stroke-width", 1.1);
stochTrends.forEach(function(t) {
  stochG.append("line").attr("x1", barX(t[0])).attr("y1", stochY(t[1])).attr("x2", barX(t[2])).attr("y2", stochY(t[3])).attr("stroke", "#e0762b").attr("stroke-width", 1);
});

// oscillator pane
var oscG = svg.append("g").attr("clip-path", "url(#pane3)");
oscG.append("path").attr("d", d3.area().x(function(d) { return barX(d[0]); }).y0(oscY(0)).y1(function(d) { return oscY(d[1]); })(oscillator)).attr("fill", "rgba(120,123,134,.15)");
hline(oscG, oscY, 0, right, "#787b86", 1, "4,4");
oscillator.forEach(function(d, k) {
  if (!k) return;
  var p = oscillator[k - 1];
  oscG.append("path").attr("d", line(oscY)([p, d])).attr("stroke", (p[1] + d[1]) / 2 >= 0 ? "#6aa86f" : "#f47a7a").attr("stroke-width", 2).attr("fill", "none");
});

// momentum pane, small dips keep the colour of the run they sit in
var momG = svg.append("g").attr("clip-path", "url(#pane4)");
var rising = false;
momentum.forEach(function(d, k) {
  if (!k) return;
  var p = momentum[k - 1];
  if (d[1] > p[1]) rising = true;
  else if (p[1] - d[1] > 6) rising = false;
  momG.append("path").attr("d", line(momY)([p, d])).attr("stroke", rising ? "#4dfb4d" : "#ff5252").attr("stroke-width", 2).attr("fill", "none");
});
hline(momG, momY, 0, right, "#0f2fa5", 1.5);

// rsi pane
var rsiG = svg.append("g").attr("clip-path", "url(#pane5)");
rsiG.append("rect").attr("x", left).attr("width", right - left).attr("y", rsiY(70)).attr("height", rsiY(30) - rsiY(70)).attr("fill", "rgba(126,87,194,.1)");
hline(rsiG, rsiY, 70, right, "#787b86", 1, "4,4");
hline(rsiG, rsiY, 50, right, "#b2b3b9", 1, "4,4");
hline(rsiG, rsiY, 30, right, "#787b86", 1, "4,4");
rsiG.append("path").attr("d", line(rsiY)(rsi)).attr("fill", "none").attr("stroke", "#7e57c2").attr("stroke-width", 1);

// frame
var frame = svg.append("g").attr("fill", "none");
frame.append("rect").attr("x", left - 1).attr("y", 26.5).attr("width", outer - left + 1).attr("height", 1015).attr("stroke", "#f0f3fa").attr("stroke-width", 2);
[421,552,742,817,923,1015].forEach(function(yy) {
  frame.append("line").attr("x1", left).attr("x2", outer).attr("y1", yy).attr("y2", yy).attr("stroke", "#e0e3eb").attr("stroke-width", 1.2);
});
frame.append("line").attr("x1", right).attr("x2", right).attr("y1", 27).attr("y2", 1041).attr("stroke", "#d6d9e2").attr("stroke-width", 1.2);

// axes
function fmt(v) { return d3.format(".2f")(v).replace("-", "\u2212"); }
function rightAxis(scale, values) {
  return svg.append("g").attr("class", "axis").attr("transform", "translate(" + (right + 3) + ",0)")
    .call(d3.axisRight(scale).tickValues(values).tickSize(0).tickPadding(6).tickFormat(fmt));
}
rightAxis(priceY, [47000,46000,45000,44000,43000,40000,39000,38000,37000,36000,35000]);
rightAxis(macdY, [2000,-2000]);
rightAxis(stochY, [40,-40,-80]);
rightAxis(oscY, [-25000]);
rightAxis(momY, [25,0,-25]);
rightAxis(rsiY, [80,40]);

svg.append("g").selectAll("text").data(tickDays).join("text")
  .attr("x", function(d) { return x(new Date(d + "T00:00:00Z")); }).attr("y", 1028)
  .attr("text-anchor", "middle").attr("dominant-baseline", "central").attr("font-size", 11.5)
  .attr("font-weight", function(d, k) { return tickNames[k] === "2022" ? 700 : 400; })
  .attr("fill", "#131722").text(function(d, k) { return tickNames[k]; });

// price tags: text, top, bottom, right edge, fill, text colour
var tags = [
  ["47928.45",15,32.5,1933,"#673ab7","#fff"],
  ["45357.75",94.3,111,1933,"#673ab7","#fff"],
  ["44703.85",114,131,1933,"#00bcd4","#131722"],
  ["43146.28",145,162,1933,"#2962ff","#fff"],
  ["43096.07",162,179,1933,"#ef5350","#fff"],
  ["",179,224,1933,"#26a69a","#fff"],
  ["42506.91",224,241,1933,"#00bcd4","#131722"],
  ["37576.41",331,348,1933,"#9598a1","#131722"],
  ["2.407K",395,412,1921,"#26a69a","#fff"],
  ["124.26",465,482,1920,"#26a69a","#fff"],
  ["\u221229.11",482,499,1920,"#2196f3","#fff"],
  ["\u2212153.37",499,516,1927,"#ff6d00","#fff"],
  ["60.00",545,561,1914,"#f57c00","#fff"],
  ["53.00",561,578,1914,"#2196f3","#fff"],
  ["16.88",597,614,1914,"#0000ff","#fff"],
  ["0.00",614,631,1908,"#808080","#fff"],
  ["\u221213.53",631,648,1920,"#009688","#fff"],
  ["\u221230.41",648,665,1920,"#e91e63","#fff"],
  ["\u221253.00",667,684,1920,"#2196f3","#fff"],
  ["\u221260.00",684,701,1920,"#f57c00","#fff"],
  ["98.73",744,761,1914,"#bdbdbd","#131722"],
  ["98.73",761,778,1914,"#008000","#fff"],
  ["20.31",839,856,1914,"#00ff00","#131722"],
  ["56.37",954,971,1914,"#7e57c2","#fff"]
];
defs.append("clipPath").attr("id", "tagClip").append("rect").attr("x", right).attr("y", 27).attr("width", 90).attr("height", 990);
defs.append("clipPath").attr("id", "tagClipStoch").append("rect").attr("x", right).attr("y", 552).attr("width", 90).attr("height", 30);
var tagG = svg.append("g").attr("clip-path", "url(#tagClip)");
tags.forEach(function(t) {
  var g = t[0] === "60.00" ? svg.append("g").attr("clip-path", "url(#tagClipStoch)") : tagG;
  g.append("rect").attr("x", right).attr("y", t[1]).attr("width", t[3] - right).attr("height", t[2] - t[1]).attr("rx", 1.5).attr("fill", t[4]);
  g.append("text").attr("x", right + 9).attr("y", (t[1] + t[2]) / 2).attr("dominant-baseline", "central").attr("font-size", 12).attr("fill", t[5]).text(t[0]);
});
["42574.14","\u221229.93%","56:16"].forEach(function(s, k) {
  svg.append("text").attr("x", right + 9).attr("y", 187.5 + k * 14).attr("dominant-baseline", "central").attr("font-size", 12).attr("fill", "#fff").text(s);
});
svg.append("rect").attr("x", 1893).attr("y", 33).attr("width", 27).attr("height", 16).attr("rx", 3).attr("fill", "#fff").attr("stroke", "#e0e3eb");
svg.append("text").attr("x", 1906.5).attr("y", 41.5).attr("text-anchor", "middle").attr("dominant-baseline", "central").attr("font-size", 11.5).attr("fill", "#131722").text("USD");

// titles
svg.append("text").attr("x", 10).attr("y", 15).attr("dominant-baseline", "central").attr("font-size", 12.2).attr("fill", "#131722")
  .text("elliott77 published on TradingView.com, Jan 20, 2022 10:03 UTC-5");
var legend = [["Bitcoin / U.S. Dollar, 4h, COINBASE, Heikin Ashi",18,"#131722",12.4],["O",281,"#131722",12],["41992.10",290,"#26a69a",12],["H",344,"#131722",12],["43127.09",353,"#26a69a",12],["L",408,"#131722",12],["41931.61",415,"#26a69a",12],["C",470,"#131722",12],["42574.14",477,"#26a69a",12],["+508.46 (+1.21%)",533,"#26a69a",11.8]];
svg.append("g").selectAll("text").data(legend).join("text")
  .attr("x", function(d) { return d[1]; }).attr("y", 42).attr("dominant-baseline", "central").attr("font-size", function(d) { return d[3]; })
  .attr("fill", function(d) { return d[2]; }).text(function(d) { return d[0]; });

// logo
var logo = svg.append("g").attr("fill", "#131722");
logo.append("path").attr("d", "M10 1053h11v12h-5.5v-7H10z");
logo.append("circle").attr("cx", 23.5).attr("cy", 1055.5).attr("r", 2.5);
logo.append("path").attr("d", "M28 1053h5l-5.5 12h-5z");
svg.append("text").attr("x", 33).attr("y", 1059).attr("dominant-baseline", "central").attr("font-size", 13).attr("fill", "#131722").text("TradingView");
</script>
</body>
</html>
